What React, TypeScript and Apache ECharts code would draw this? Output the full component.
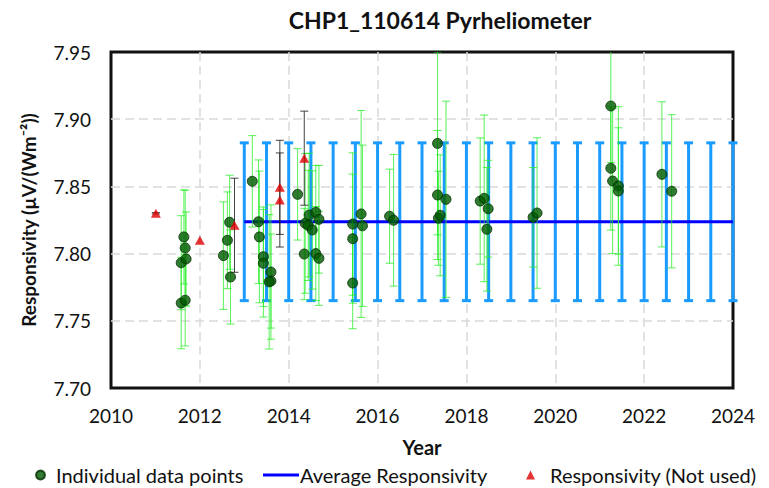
import React, { useEffect, useRef } from "react";
import * as echarts from "echarts";

// ---- Data ----
const pointYears = [
  2011.58, 2011.58, 2011.64, 2011.67, 2011.67, 2011.69,
  2012.53, 2012.62, 2012.67, 2012.69,
  2013.18, 2013.32, 2013.34, 2013.43, 2013.43, 2013.6, 2013.6, 2013.56,
  2014.2, 2014.35, 2014.37, 2014.44, 2014.46, 2014.53, 2014.61, 2014.61, 2014.68, 2014.68,
  2015.44, 2015.44, 2015.44, 2015.63, 2015.66,
  2016.27, 2016.36,
  2017.35, 2017.35, 2017.37, 2017.41, 2017.54,
  2018.31, 2018.4, 2018.46, 2018.49,
  2019.5, 2019.59,
  2021.25, 2021.25, 2021.29, 2021.42, 2021.42,
  2022.4, 2022.62,
];
const pointValues = [
  7.7932, 7.7632, 7.8124, 7.8042, 7.7653, 7.796,
  7.7985, 7.8099, 7.8233, 7.7826,
  7.8538, 7.8237, 7.8124, 7.7977, 7.7928, 7.7863, 7.7796, 7.779,
  7.8441, 7.7997, 7.8225, 7.821, 7.8287, 7.8176, 7.8307, 7.8, 7.8255, 7.7965,
  7.822, 7.8111, 7.7781, 7.8295, 7.8207,
  7.8278, 7.8248,
  7.882, 7.8436, 7.8263, 7.8285, 7.8404,
  7.8391, 7.8411, 7.8181, 7.8334,
  7.827, 7.8302,
  7.9098, 7.8635, 7.854, 7.8503, 7.8466,
  7.859, 7.8464,
];
const pointUnc = [
  0.035, 0.034, 0.035, 0.043, 0.034, 0.035,
  0.04, 0.036, 0.035, 0.035,
  0.034, 0.046, 0.049, 0.037, 0.04, 0.05, 0.035, 0.05,
  0.034, 0.034, 0.052, 0.041, 0.046, 0.044, 0.035, 0.035, 0.04, 0.035,
  0.053, 0.048, 0.034, 0.077, 0.06,
  0.035, 0.049,
  0.068, 0.048, 0.035, 0.045, 0.073,
  0.047, 0.062, 0.046, 0.036,
  0.037, 0.056,
  0.042, 0.046, 0.054, 0.059, 0.047,
  0.054, 0.057,
];

const notUsedYears = [2011.01, 2012.0, 2012.78, 2013.8, 2013.8, 2014.35];
const notUsedValues = [7.83, 7.81, 7.8211, 7.8493, 7.8399, 7.871];
const notUsedUnc = [0.0005, 0.0, 0.035, 0.035, 0.035, 0.035];

const avgYears = [
  2013, 2013.5, 2014, 2014.5, 2015, 2015.5, 2016, 2016.5, 2017, 2017.5, 2018, 2018.5,
  2019, 2019.5, 2020, 2020.5, 2021, 2021.5, 2022, 2022.5, 2023, 2023.5, 2024,
];
const avgResponsivity = 7.8237;
const avgUnc = 0.0587;
const avgLineYears = [2013, 2024];

const yTicks = { min: 7.7, max: 7.95, interval: 0.05 };
const xTicks = { min: 2010, max: 2024, interval: 2 };

const FONT = "Lato, 'Liberation Sans', sans-serif";

function errorBarRenderer(capHalf: number, color: string, width: number, opacity: number) {
  return (params: any, api: any) => {
    const x = api.value(0);
    const lo = api.value(1);
    const hi = api.value(2);
    const pLo = api.coord([x, lo]);
    const pHi = api.coord([x, hi]);
    const style = { stroke: color, lineWidth: width, opacity };
    return {
      type: "group",
      children: [
        { type: "line", shape: { x1: pLo[0], y1: pLo[1], x2: pHi[0], y2: pHi[1] }, style },
        { type: "line", shape: { x1: pLo[0] - capHalf, y1: pLo[1], x2: pLo[0] + capHalf, y2: pLo[1] }, style },
        { type: "line", shape: { x1: pHi[0] - capHalf, y1: pHi[1], x2: pHi[0] + capHalf, y2: pHi[1] }, style },
      ],
    };
  };
}

export default function App() {
  const ref = useRef<HTMLDivElement>(null);

  useEffect(() => {
    if (!ref.current) return;
    const chart = echarts.init(ref.current, null, { renderer: "svg" });

    const pointData = pointYears.map((y, i) => [y, pointValues[i]]);
    const pointErr = pointYears.map((y, i) => [y, pointValues[i] - pointUnc[i], pointValues[i] + pointUnc[i]]);
    const notUsedData = notUsedYears.map((y, i) => [y, notUsedValues[i]]);
    const notUsedErr = notUsedYears
      .map((y, i) => [y, notUsedValues[i] - notUsedUnc[i], notUsedValues[i] + notUsedUnc[i]])
      .filter((d, i) => notUsedUnc[i] > 0);
    const avgErr = avgYears.map((y) => [y, avgResponsivity - avgUnc, avgResponsivity + avgUnc]);
    const avgLine = avgLineYears.map((y) => [y, avgResponsivity]);

    const legendText = { fontFamily: FONT, fontSize: 20, color: "#111" };
    const split = {
      show: true,
      showMinLine: false,
      showMaxLine: false,
      lineStyle: { color: "#d9d9d9", width: 1.5, type: [9, 5] },
    };

    chart.setOption({
      animation: false,
      backgroundColor: "#fff",
      title: {
        text: "CHP1_110614 Pyrheliometer",
        left: 435,
        top: 3,
        textAlign: "center",
        textStyle: { fontFamily: FONT, fontSize: 23, fontWeight: "bold", color: "#111" },
      },
      grid: {
        left: 111,
        right: 36,
        top: 52,
        bottom: 100,
        show: true,
        borderColor: "#111",
        borderWidth: 3,
        backgroundColor: "transparent",
      },
      legend: [
        {
          data: ["Individual data points"],
          left: 35,
          top: 465,
          padding: 0,
          itemWidth: 9,
          itemHeight: 9,
          textStyle: { ...legendText, padding: [0, 0, 0, 6] },
        },
        {
          data: ["Average Responsivity"],
          left: 263,
          top: 465,
          padding: 0,
          itemWidth: 36,
          itemHeight: 3,
          icon: "rect",
          textStyle: { ...legendText, padding: [0, 0, 0, -4] },
        },
        {
          data: ["Responsivity (Not used)"],
          left: 526,
          top: 465,
          padding: 0,
          itemWidth: 9,
          itemHeight: 9,
          icon: "triangle",
          textStyle: { ...legendText, padding: [0, 0, 0, 10] },
        },
      ],
      xAxis: {
        type: "value",
        min: xTicks.min,
        max: xTicks.max,
        interval: xTicks.interval,
        name: "Year",
        nameLocation: "middle",
        nameGap: 49,
        nameTextStyle: { fontFamily: FONT, fontSize: 20, fontWeight: "bold", color: "#111" },
        axisLine: { show: false },
        axisTick: { show: false },
        axisLabel: {
          fontFamily: FONT,
          fontSize: 19,
          color: "#111",
          margin: 18,
          formatter: (v: number) => String(v),
        },
        splitLine: split,
      },
      yAxis: {
        type: "value",
        min: yTicks.min,
        max: yTicks.max,
        interval: yTicks.interval,
        name: "Responsivity (µV/(Wm⁻²))",
        nameLocation: "middle",
        nameGap: 73,
        nameTextStyle: { fontFamily: FONT, fontSize: 19, fontWeight: "bold", color: "#111" },
        axisLine: { show: false },
        axisTick: { show: false },
        axisLabel: {
          fontFamily: FONT,
          fontSize: 19,
          color: "#111",
          margin: 20,
          formatter: (v: number) => v.toFixed(2),
        },
        splitLine: split,
      },
      series: [
        {
          name: "avgErr",
          type: "custom",
          data: avgErr,
          encode: { x: 0, y: [1, 2] },
          renderItem: errorBarRenderer(4.5, "#1a9bff", 3, 1),
          z: 1,
          silent: true,
        },
        {
          name: "Average Responsivity",
          type: "line",
          data: avgLine,
          symbol: "none",
          color: "#0000ff",
          lineStyle: { color: "#0000ff", width: 3 },
          z: 2,
        },
        {
          name: "pointErr",
          type: "custom",
          data: pointErr,
          encode: { x: 0, y: [1, 2] },
          renderItem: errorBarRenderer(4, "#22ee22", 1, 0.75),
          clip: true,
          z: 3,
          silent: true,
        },
        {
          name: "notUsedErr",
          type: "custom",
          data: notUsedErr,
          encode: { x: 0, y: [1, 2] },
          renderItem: errorBarRenderer(4, "#222", 1, 0.85),
          clip: true,
          z: 3,
          silent: true,
        },
        {
          name: "Individual data points",
          type: "scatter",
          data: pointData,
          symbol: "circle",
          symbolSize: 10,
          color: "#005a00",
          itemStyle: { color: "#005a00", borderColor: "#013001", borderWidth: 1 },
          z: 5,
        },
        {
          name: "Responsivity (Not used)",
          type: "scatter",
          data: notUsedData,
          symbol: "triangle",
          symbolSize: [10, 9],
          color: "#e00000",
          itemStyle: { color: "#e00000" },
          z: 6,
        },
      ],
    });

    return () => chart.dispose();
  }, []);

  return <div ref={ref} style={{ width: 769, height: 488, marginLeft: -8, marginTop: -8 }} />;
}
